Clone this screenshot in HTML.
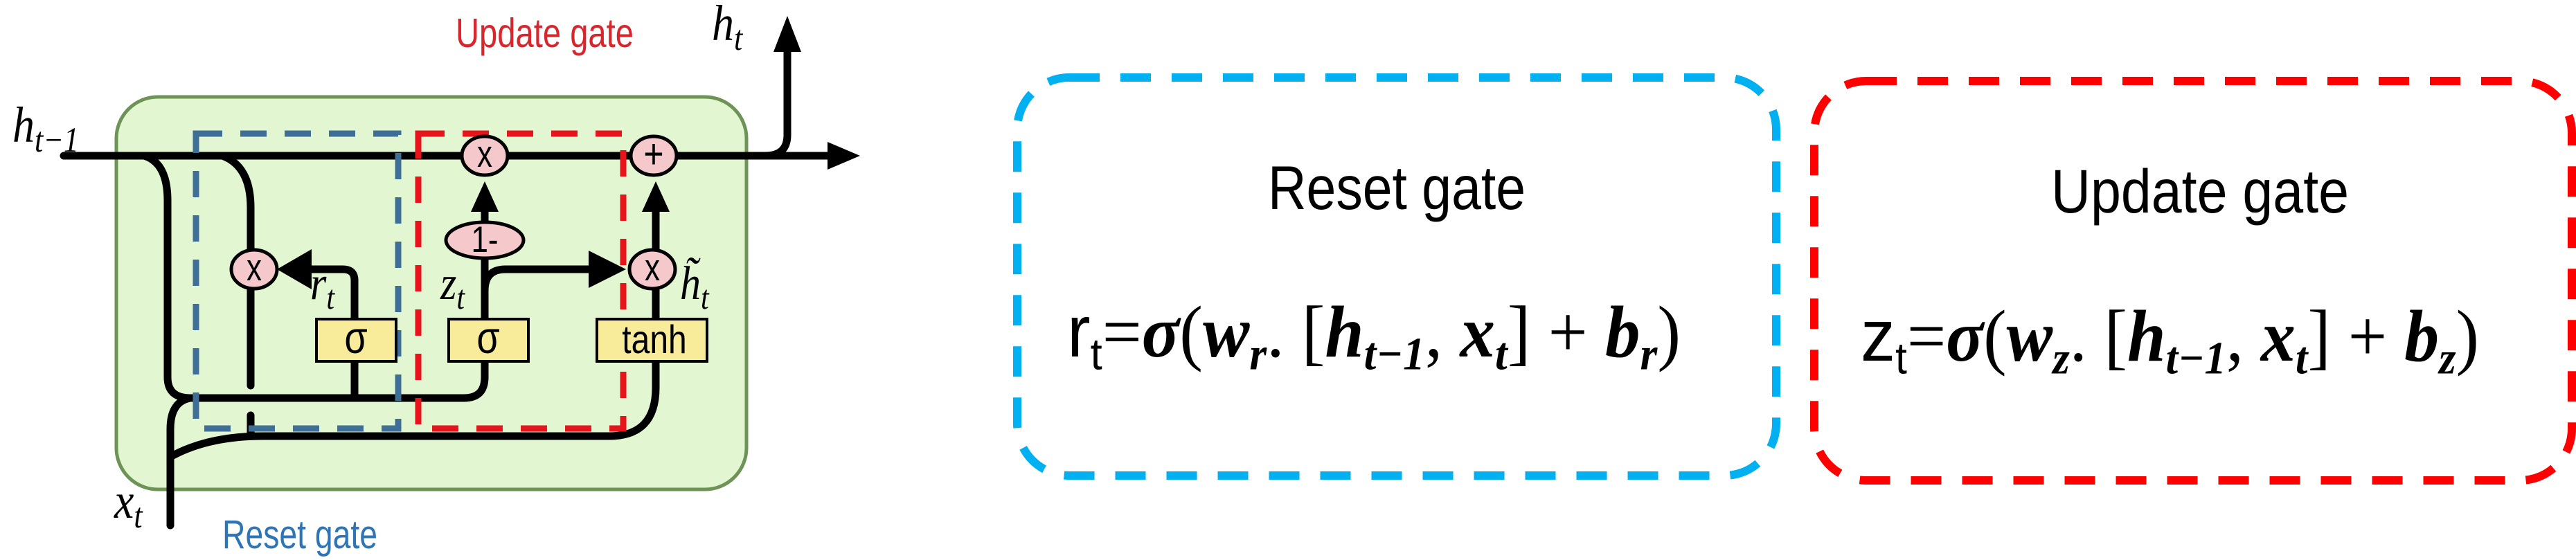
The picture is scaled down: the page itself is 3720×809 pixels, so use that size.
<!DOCTYPE html>
<html><head><meta charset="utf-8"><style>
html,body{margin:0;padding:0;background:#fff;}
svg{display:block;}
</style></head><body>
<svg width="3720" height="809" viewBox="0 0 3720 809" xmlns="http://www.w3.org/2000/svg">
<!-- green cell -->
<rect x="168" y="140" width="910" height="567" rx="60" fill="#e2f6d2" stroke="#6e9356" stroke-width="5"/>
<g fill="none" stroke="#000" stroke-width="11" stroke-linecap="round">
<line x1="92" y1="225" x2="1195" y2="225"/>
<path d="M1105,225 Q1137,225 1137,195 L1137,70"/>
<path d="M208,225 Q242,235 242,290 L242,545 Q242,575 275,575 L670,575 Q700,575 700,545 L700,522"/>
<path d="M321,225 Q362,240 362,300 L362,557"/>
<line x1="362" y1="600" x2="362" y2="630"/>
<path d="M512,575 L512,461"/>
<path d="M512,461 L512,405 Q512,389 495,389 L430,389"/>
<path d="M246,759 L246,620 Q246,580 275,575"/>
<path d="M246,660 Q300,630 380,630 L880,630 Q947,630 947,560 L947,522"/>
<line x1="700" y1="461" x2="700" y2="373"/>
<path d="M700,420 Q700,389 730,389 L860,389"/>
<line x1="700" y1="321" x2="700" y2="300"/>
<line x1="947" y1="461" x2="947" y2="417"/>
<line x1="947" y1="361" x2="947" y2="300"/>
</g>
<g fill="#000">
<polygon points="1195,205 1242,225 1195,245"/>
<polygon points="1117,75 1137,23 1157,75"/>
<polygon points="680,306 700,262 720,306"/>
<polygon points="927,306 947,262 967,306"/>
<polygon points="450,360 400,389 450,418"/>
<polygon points="850,362 904,389 850,416"/>
</g>
<rect x="283" y="193" width="292" height="426" fill="none" stroke="#3f6e97" stroke-width="9" stroke-dasharray="38 26"/>
<rect x="604" y="193" width="296" height="426" fill="none" stroke="#e8141b" stroke-width="9" stroke-dasharray="38 26"/>
<g stroke="#000" stroke-width="5" fill="#f5c9cc">
<ellipse cx="700" cy="225" rx="33" ry="28"/>
<ellipse cx="944" cy="225" rx="33" ry="28"/>
<ellipse cx="700" cy="347" rx="56" ry="26"/>
<ellipse cx="367" cy="389" rx="33" ry="28"/>
<ellipse cx="942" cy="389" rx="33" ry="28"/>
</g>
<g stroke="#000" stroke-width="4" fill="#f8ec9b">
<rect x="457" y="461" width="115" height="61"/>
<rect x="648" y="461" width="115" height="61"/>
<rect x="862" y="461" width="159" height="61"/>
</g>
<g font-family="Liberation Sans, sans-serif" fill="#000" text-anchor="middle">
<text transform="translate(700,241) scale(1,1.25)" font-size="44">x</text>
<text transform="translate(944,243) scale(1,1.2)" font-size="50">+</text>
<text transform="translate(700,364) scale(1,1.2)" font-size="44">1-</text>
<text transform="translate(367,405) scale(1,1.25)" font-size="44">x</text>
<text transform="translate(942,405) scale(1,1.25)" font-size="44">x</text>
<text transform="translate(514,510) scale(1,1.2)" font-size="54">σ</text>
<text transform="translate(705,510) scale(1,1.2)" font-size="54">σ</text>
<text transform="translate(945,510) scale(1,1.2)" font-size="48">tanh</text>
</g>
<g font-family="Liberation Serif, serif" font-style="italic" fill="#000">
<text transform="translate(18,205) scale(1,1.15)" font-size="64">h<tspan font-size="44" dy="12">t−1</tspan></text>
<text transform="translate(1028,58) scale(1,1.15)" font-size="64">h<tspan font-size="44" dy="12">t</tspan></text>
<text transform="translate(448,432) scale(1,1.15)" font-size="60">r<tspan font-size="42" dy="12">t</tspan></text>
<text transform="translate(636,432) scale(1,1.15)" font-size="60">z<tspan font-size="42" dy="12">t</tspan></text>
<text transform="translate(982,432) scale(1,1.15)" font-size="60">h̃<tspan font-size="42" dy="12">t</tspan></text>
<text transform="translate(165,748) scale(1,1.15)" font-size="64">x<tspan font-size="44" dy="12">t</tspan></text>
</g>
<text transform="translate(658,68) scale(1,1.3)" font-family="Liberation Sans, sans-serif" font-size="46" fill="#d8262d" textLength="257" lengthAdjust="spacingAndGlyphs">Update gate</text>
<text transform="translate(321,792) scale(1,1.3)" font-family="Liberation Sans, sans-serif" font-size="45" fill="#2e75b6" textLength="224" lengthAdjust="spacingAndGlyphs">Reset gate</text>

<rect x="1469" y="112" width="1096" height="575" rx="75" fill="none" stroke="#00b0f0" stroke-width="12" stroke-dasharray="44 30"/>
<rect x="2620" y="117" width="1094" height="577" rx="75" fill="none" stroke="#ff0000" stroke-width="12" stroke-dasharray="44 30"/>
<g font-family="Liberation Sans, sans-serif" fill="#000" text-anchor="middle">
<text transform="translate(2017,302) scale(1,1.2)" font-size="74" textLength="372" lengthAdjust="spacingAndGlyphs">Reset gate</text>
<text transform="translate(3177,307) scale(1,1.2)" font-size="74" textLength="430" lengthAdjust="spacingAndGlyphs">Update gate</text>
</g>
<g font-family="Liberation Serif, serif" fill="#000" font-size="92">
<text transform="translate(1541,515) scale(1,1.15)" textLength="886" lengthAdjust="spacingAndGlyphs"><tspan font-family="Liberation Sans, sans-serif">r</tspan><tspan font-family="Liberation Sans, sans-serif" font-size="56" dy="16">t</tspan><tspan dy="-16">=</tspan><tspan font-weight="bold" font-style="italic">σ</tspan>(<tspan font-weight="bold" font-style="italic">w</tspan><tspan font-weight="bold" font-style="italic" font-size="58" dy="16">r</tspan><tspan dy="-16">. [</tspan><tspan font-weight="bold" font-style="italic">h</tspan><tspan font-weight="bold" font-style="italic" font-size="58" dy="16">t−1</tspan><tspan dy="-16">, </tspan><tspan font-weight="bold" font-style="italic">x</tspan><tspan font-weight="bold" font-style="italic" font-size="58" dy="16">t</tspan><tspan dy="-16">] + </tspan><tspan font-weight="bold" font-style="italic">b</tspan><tspan font-weight="bold" font-style="italic" font-size="58" dy="16">r</tspan><tspan dy="-16">)</tspan></text>
<text transform="translate(2687,521) scale(1,1.15)" textLength="893" lengthAdjust="spacingAndGlyphs"><tspan font-family="Liberation Sans, sans-serif">z</tspan><tspan font-family="Liberation Sans, sans-serif" font-size="56" dy="16">t</tspan><tspan dy="-16">=</tspan><tspan font-weight="bold" font-style="italic">σ</tspan>(<tspan font-weight="bold" font-style="italic">w</tspan><tspan font-weight="bold" font-style="italic" font-size="58" dy="16">z</tspan><tspan dy="-16">. [</tspan><tspan font-weight="bold" font-style="italic">h</tspan><tspan font-weight="bold" font-style="italic" font-size="58" dy="16">t−1</tspan><tspan dy="-16">, </tspan><tspan font-weight="bold" font-style="italic">x</tspan><tspan font-weight="bold" font-style="italic" font-size="58" dy="16">t</tspan><tspan dy="-16">] + </tspan><tspan font-weight="bold" font-style="italic">b</tspan><tspan font-weight="bold" font-style="italic" font-size="58" dy="16">z</tspan><tspan dy="-16">)</tspan></text>
</g>
</svg>
</body></html>
